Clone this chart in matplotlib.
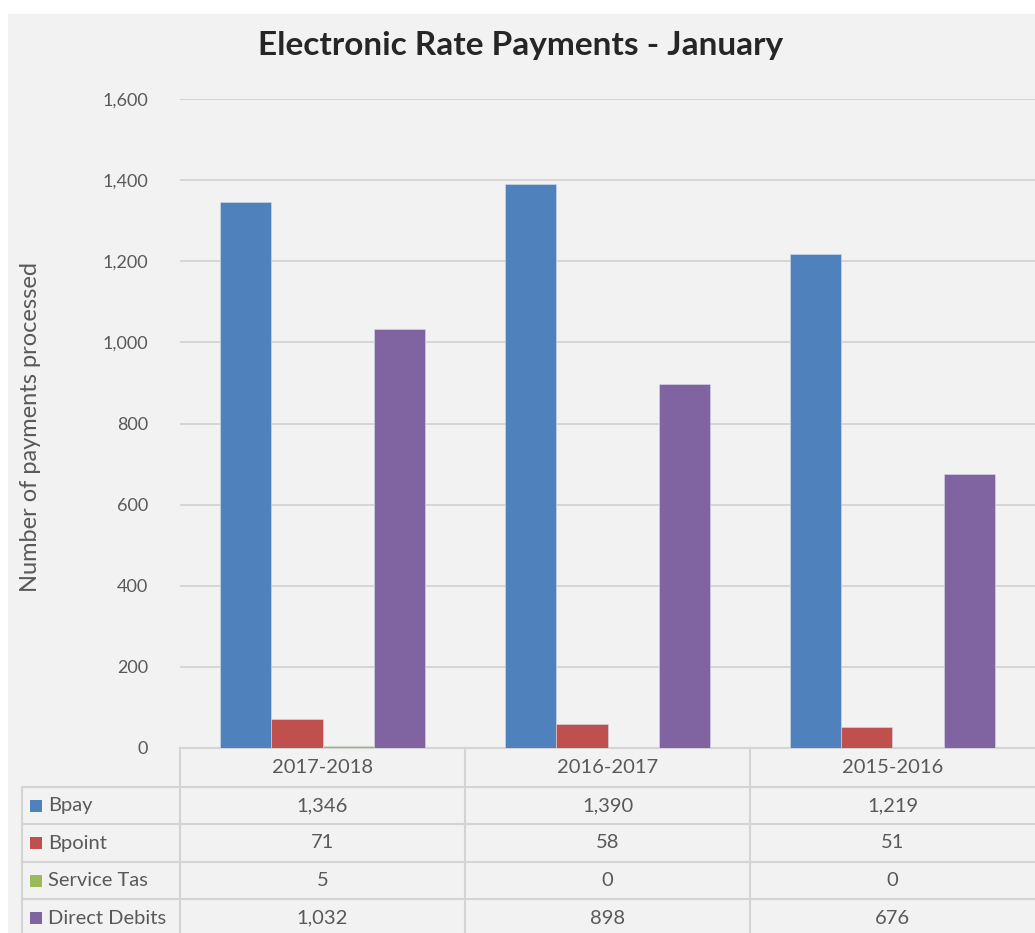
import matplotlib
matplotlib.use("Agg")
import matplotlib.pyplot as plt
from matplotlib.patches import Rectangle
from matplotlib.transforms import blended_transform_factory

plt.rcParams['font.family'] = ['Lato', 'DejaVu Sans']

# Data
years = ["2017-2018", "2016-2017", "2015-2016"]
series_names = ["Bpay", "Bpoint", "Service Tas", "Direct Debits"]
bpay = [1346, 1390, 1219]
bpoint = [71, 58, 51]
service_tas = [5, 0, 0]
direct_debits = [1032, 898, 676]
colors = ["#4F81BD", "#C0504D", "#9BBB59", "#8064A2"]

series = [bpay, bpoint, service_tas, direct_debits]
text_col = "#595959"
line_col = "#D4D4D4"

W, H = 1035, 933
fig = plt.figure(figsize=(W / 100, H / 100), dpi=100)
fig.patch.set_facecolor("white")
# chart area background
fig.patches.append(Rectangle((8 / W, 0), 1 - 8 / W, 1 - 14 / H, transform=fig.transFigure,
                             facecolor="#F2F2F2", edgecolor="none", zorder=-10))

# overlay axes in pixel coords (for the data table)
ov = fig.add_axes([0, 0, 1, 1])
ov.set_xlim(0, W)
ov.set_ylim(H, 0)
ov.axis("off")
ov.patch.set_alpha(0)

# main plot area
ax = fig.add_axes([180 / W, (H - 748) / H, (W - 180) / W, (748 - 99) / H])
ax.patch.set_alpha(0)
ax.set_xlim(-0.5, len(years) - 0.5)
ax.set_ylim(0, 1600)
ax.set_yticks(range(0, 1601, 200))
ax.set_yticklabels([f"{v:,}" for v in range(0, 1601, 200)], fontsize=13, color=text_col)
ax.tick_params(axis="y", length=0, pad=23)
ax.set_xticks([])
for s in ax.spines.values():
    s.set_visible(False)
ax.grid(axis="y", color=line_col, linewidth=1.3)
ax.set_axisbelow(True)

w = 0.18
for k, (vals, c) in enumerate(zip(series, colors)):
    xs = [i + (k - 1.5) * w for i in range(len(years))]
    ax.bar(xs, vals, width=w, color=c, edgecolor="#D6DCE8", linewidth=0.4, zorder=3)

ax.set_ylabel("Number of payments processed", fontsize=17, color=text_col)
ax.yaxis.set_label_coords(-0.163, 0.495)

fig.text(521 / W, 1 - 45 / H, "Electronic Rate Payments - January", ha="center", va="center",
         fontsize=24, fontweight="bold", color="#262626")

# data table
tr = blended_transform_factory(ax.transData, ov.transData)
row_edges = [748, 787, 824, 862, 899, 937]
# horizontal lines of the value columns
for y in row_edges[:-1]:
    ov.plot([-0.5, len(years) - 0.5], [y, y], transform=tr, color=line_col, lw=1.5, clip_on=False)
# label column horizontal lines
for y in row_edges[1:-1]:
    ov.plot([22, 180], [y, y], color=line_col, lw=1.5)
# vertical lines
for b in range(len(years)):
    ov.plot([b - 0.5, b - 0.5], [748, H], transform=tr, color=line_col, lw=1.5)
ov.plot([22, 22], [787, H], color=line_col, lw=1.5)

for i, yr in enumerate(years):
    ov.text(i, (row_edges[0] + row_edges[1]) / 2, yr, transform=tr, ha="center", va="center",
            fontsize=14.5, color=text_col)
for r, (name, vals, c) in enumerate(zip(series_names, series, colors)):
    yc = (row_edges[r + 1] + row_edges[r + 2]) / 2
    ov.add_patch(Rectangle((30, yc - 6), 12, 12, facecolor=c, edgecolor="none"))
    ov.text(48, yc, name, ha="left", va="center", fontsize=14.5, color=text_col)
    for i, v in enumerate(vals):
        ov.text(i, yc, f"{v:,}", transform=tr, ha="center", va="center", fontsize=14.5, color=text_col)

fig.savefig("out.png", dpi=100, facecolor=fig.get_facecolor())
